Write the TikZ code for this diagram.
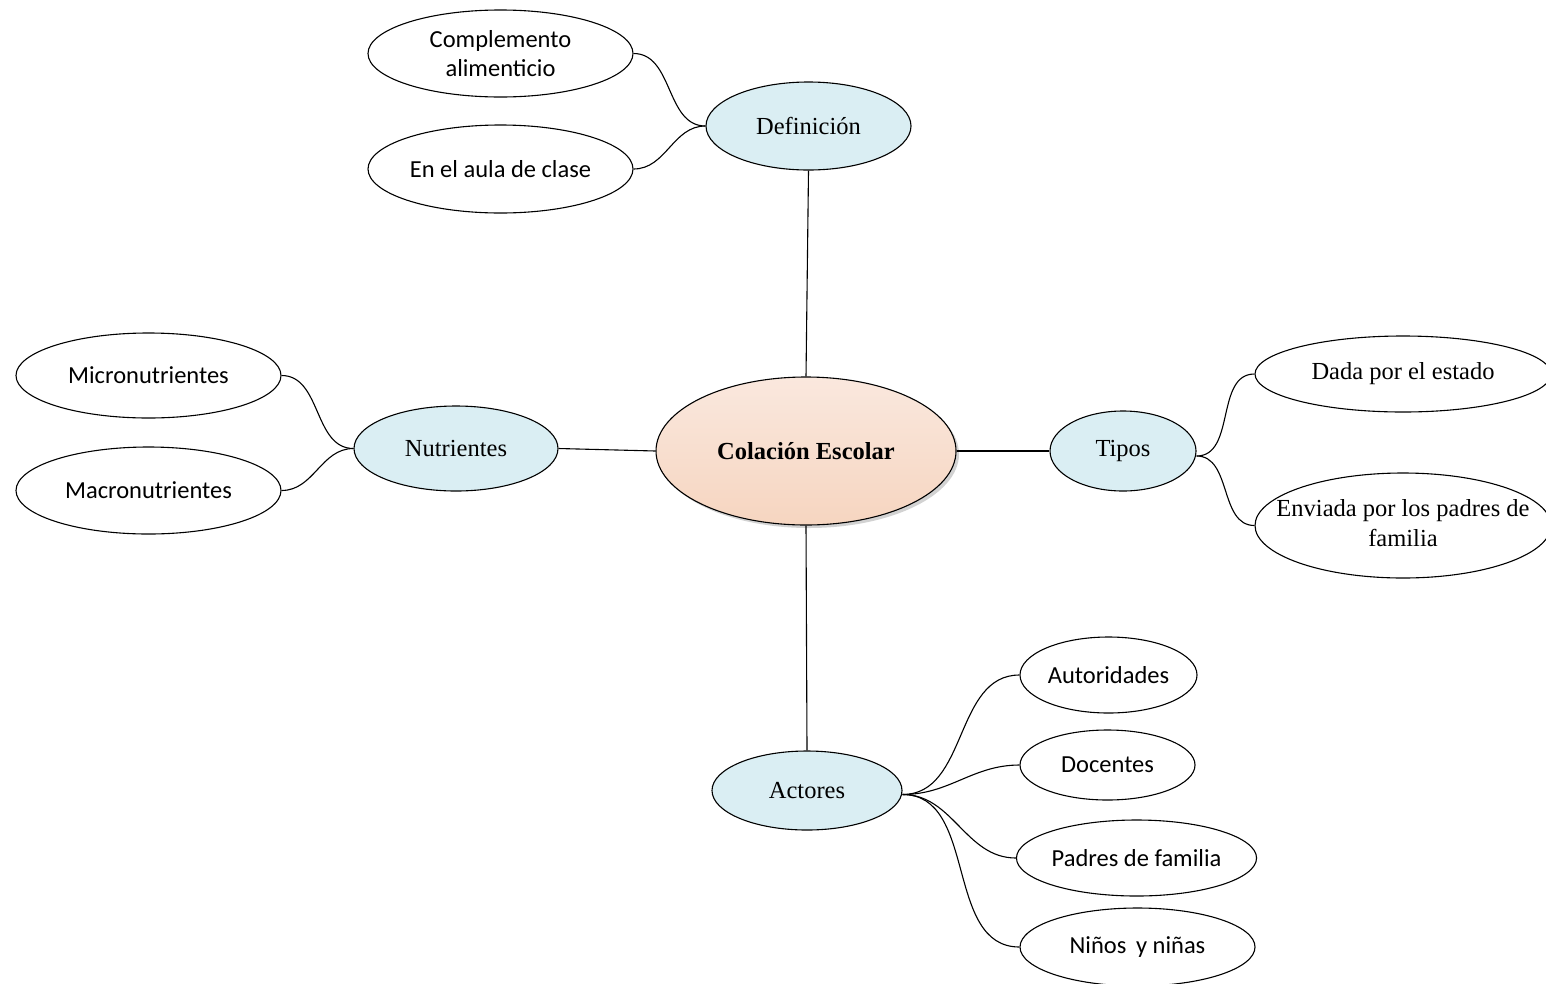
\documentclass[tikz,border=0pt]{standalone}
\usepackage{fontspec}
\setmainfont{Liberation Serif}
\newfontfamily\calibri{Carlito}
\usetikzlibrary{shapes.geometric,shadows}
\definecolor{lblue}{HTML}{DAEEF3}
\definecolor{peachtop}{HTML}{FAE8DE}
\definecolor{peachbot}{HTML}{F6D5C0}
\tikzset{
  base/.style={ellipse, draw=black, line width=1.1pt, inner sep=0pt, align=center,
    font=\fontsize{24.5}{29}\selectfont},
  topic/.style={base, fill=lblue},
  leaf/.style={base, fill=white, font=\calibri\fontsize{24.5}{29}\selectfont},
  leafserif/.style={base, fill=white},
  conn/.style={line width=1.1pt, black},
}
\begin{document}
\begin{tikzpicture}[x=1pt,y=-1pt]
\useasboundingbox (0,0) rectangle (1546,983);
\begin{scope}
\clip (0,0) rectangle (1546,983);
% central
\node[base, minimum width=300pt, minimum height=148pt, top color=peachtop, bottom color=peachbot,
  drop shadow={shadow xshift=3pt, shadow yshift=-3pt, fill=black!35}, font=\bfseries\fontsize{24.5}{29}\selectfont]
  (c) at (806,451) {Colación Escolar};
% topics
\node[topic, minimum width=205pt, minimum height=88pt] (def) at (808.5,126) {Definición};
\node[topic, minimum width=204pt, minimum height=85pt] (nut) at (456,448.5) {Nutrientes};
\node[topic, minimum width=146pt, minimum height=80pt] (tip) at (1123,451) {Tipos};
\node[topic, minimum width=190pt, minimum height=79pt] (act) at (807,790.5) {Actores};
% leaves
\node[leaf, minimum width=265pt, minimum height=87pt] (comp) at (500.5,53.5) {Complemento\\alimenticio};
\node[leaf, minimum width=265pt, minimum height=88pt] (aula) at (500.5,169) {En el aula de clase};
\node[leaf, minimum width=265pt, minimum height=85pt] (micro) at (148.5,375.5) {Micronutrientes};
\node[leaf, minimum width=265pt, minimum height=87pt] (macro) at (148.5,490.5) {Macronutrientes};
\node[leafserif, minimum width=296pt, minimum height=76pt] (dada) at (1403,374) {\makebox[0pt]{Dada por el estado}};
\node[leafserif, minimum width=296pt, minimum height=105pt] (env) at (1403,525.5)
  {\makebox[0pt]{\begin{tabular}{@{}c@{}}Enviada por los padres de\\[1pt]familia\end{tabular}}};
\node[leaf, minimum width=177pt, minimum height=76pt] (aut) at (1108.5,675) {Autoridades};
\node[leaf, minimum width=175pt, minimum height=70pt] (doc) at (1107.5,765) {Docentes};
\node[leaf, minimum width=233pt, minimum height=76pt] (pad) at (1136.5,858) {Padres de familia};
\node[leaf, minimum width=235pt, minimum height=78pt] (nin) at (1137.5,947) {Niños\,\ y niñas};
% connectors
\draw[conn] (def.south) -- (c.north);
\draw[conn] (nut.east) -- (c.west);
\draw[conn] (c.east) -- (tip.west);
\draw[conn] (c.south) -- (act.north);
\draw[conn] (comp.east) to[out=0,in=180] (def.west);
\draw[conn] (aula.east) to[out=0,in=180] (def.west);
\draw[conn] (micro.east) to[out=0,in=180] (nut.west);
\draw[conn] (macro.east) to[out=0,in=180] (nut.west);
\coordinate (te) at ([yshift=-5pt]tip.east);
\draw[conn] (te) to[out=0,in=180] (dada.west);
\draw[conn] (te) to[out=0,in=180] (env.west);
\coordinate (ae) at ([yshift=-4pt]act.east);
\draw[conn] (ae) to[out=0,in=180] (aut.west);
\draw[conn] (ae) to[out=0,in=180] (doc.west);
\draw[conn] (ae) to[out=0,in=180] (pad.west);
\draw[conn] (ae) to[out=0,in=180] (nin.west);
\end{scope}
\end{tikzpicture}
\end{document}
